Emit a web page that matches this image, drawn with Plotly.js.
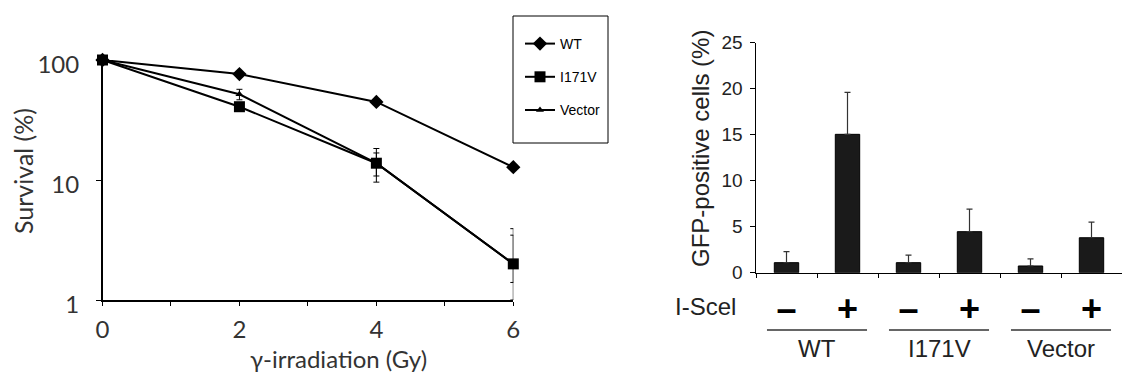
<!DOCTYPE html>
<html>
<head>
<meta charset="utf-8">
<script src="https://cdn.plot.ly/plotly-3.0.1.min.js"></script>
<style>html,body{margin:0;padding:0;background:#fff;}#chart{width:1122px;height:374px;}</style>
</head>
<body>
<div id="chart"></div>
<script>
// ---- Survival curve data (left panel) ----
const doses = [0, 2, 4, 6];
const doseTickVals = [0, 1, 2, 3, 4, 5, 6];
const doseTickText = ["0", "", "2", "", "4", "", "6"];
const survivalTickVals = [1, 10, 100];
const survivalTickText = ["1", "10", "100"];

const wtSurvival = [100, 76.4, 44.7, 12.8];
const wtErrPlus = [0, 2, 2.5, 0.7];
const wtErrMinus = [0, 2, 2.5, 0.7];

const i171vSurvival = [100, 40.8, 13.8, 2.0];
const i171vErrPlus = [0, 3, 4.5, 1.93];
const i171vErrMinus = [0, 3, 4.2, 1.0];

const vectorSurvival = [100, 51.8, 13.8, 2.0];
const vectorErrPlus = [0, 5.2, 3, 1.47];
const vectorErrMinus = [0, 5.2, 3, 0.6];

const seriesNames = ["WT", "I171V", "Vector"];

// ---- GFP reporter data (right panel) ----
const gfpCategories = ["WT-", "WT+", "I171V-", "I171V+", "Vector-", "Vector+"];
const gfpSymbols = ["–", "+", "–", "+", "–", "+"];
const gfpValues = [1.09, 15.04, 1.09, 4.46, 0.73, 3.8];
const gfpErrUp = [1.19, 4.56, 0.81, 2.44, 0.77, 1.7];
const groupLabels = ["WT", "I171V", "Vector"];
const groupCenters = [0.5, 2.5, 4.5];

const W = 1122, H = 374;
const px = v => v / W;
const py = v => 1 - v / H;

const lato = "Lato, 'Open Sans', sans-serif";
const arial = "'Liberation Sans', Arial, sans-serif";

const lineStyle = {color: "#000", width: 2};
const errStyle = (plus, minus) => ({type: "data", symmetric: false, array: plus, arrayminus: minus, color: "#000", thickness: 1, width: 3});

const traces = [
  {x: doses, y: wtSurvival, name: seriesNames[0], legendgroup: "a", type: "scatter", mode: "lines+markers",
   line: lineStyle, marker: {symbol: "diamond", size: 11, color: "#000"}, error_y: errStyle(wtErrPlus, wtErrMinus),
   cliponaxis: false, xaxis: "x", yaxis: "y"},
  {x: doses, y: i171vSurvival, name: seriesNames[1], legendgroup: "b", type: "scatter", mode: "lines+markers",
   line: lineStyle, marker: {symbol: "square", size: 11, color: "#000"}, error_y: errStyle(i171vErrPlus, i171vErrMinus),
   cliponaxis: false, xaxis: "x", yaxis: "y"},
  {x: doses, y: vectorSurvival, name: seriesNames[2], legendgroup: "c", type: "scatter", mode: "lines+markers",
   line: lineStyle, marker: {symbol: "triangle-up", size: 7, color: "#000"}, error_y: errStyle(vectorErrPlus, vectorErrMinus),
   cliponaxis: false, xaxis: "x", yaxis: "y"},
  {x: gfpCategories, y: gfpValues, type: "bar", showlegend: false, xaxis: "x2", yaxis: "y2",
   marker: {color: "#1a1a1a", line: {color: "#000", width: 1}},
   error_y: {type: "data", symmetric: false, array: gfpErrUp, arrayminus: gfpValues.map(() => 0), color: "#333", thickness: 1.2, width: 3}}
];

const shapes = [
  {type: "rect", xref: "paper", yref: "paper", x0: px(513), x1: px(608), y0: py(143), y1: py(16), line: {color: "#000", width: 1}}
];
groupCenters.forEach(c => {
  shapes.push({type: "line", xref: "x2", yref: "paper", x0: c - 0.82, x1: c + 0.82, y0: py(330), y1: py(330), line: {color: "#666", width: 2}});
});

const annotations = [
  {text: "Survival (%)", xref: "paper", yref: "paper", x: px(23), y: py(171), textangle: -90, showarrow: false,
   xanchor: "center", yanchor: "middle", font: {family: lato, size: 25, color: "#333"}},
  {text: "γ-irradiation (Gy)", xref: "paper", yref: "paper", x: px(338), y: py(358), showarrow: false,
   xanchor: "center", yanchor: "middle", font: {family: lato, size: 24, color: "#333"}},
  {text: "GFP-positive cells (%)", xref: "paper", yref: "paper", x: px(700), y: py(149), textangle: -90, showarrow: false,
   xanchor: "center", yanchor: "middle", font: {family: arial, size: 24, color: "#222"}},
  {text: "I-Scel", xref: "paper", yref: "paper", x: px(705.5), y: py(306), showarrow: false,
   xanchor: "center", yanchor: "middle", font: {family: arial, size: 24, color: "#222"}}
];
groupLabels.forEach((g, i) => {
  annotations.push({text: g, xref: "x2", yref: "paper", x: groupCenters[i], y: py(348), showarrow: false,
    xanchor: "center", yanchor: "middle", font: {family: arial, size: 24, color: "#222"}});
});

const layout = {
  width: W, height: H,
  margin: {l: 0, r: 0, t: 0, b: 0, pad: 0},
  paper_bgcolor: "#fff", plot_bgcolor: "rgba(0,0,0,0)",
  showlegend: true,
  legend: {x: px(520), y: py(28), xanchor: "left", yanchor: "top", bgcolor: "rgba(0,0,0,0)", borderwidth: 0,
    tracegroupgap: 12, font: {family: arial, size: 14, color: "#000"}},
  xaxis: {domain: [px(102.5), px(513.3)], range: [0, 6], tickvals: doseTickVals, ticktext: doseTickText,
    ticks: "outside", ticklen: 4, tickcolor: "#000", showline: true, linecolor: "#000", linewidth: 1.5,
    showgrid: false, zeroline: false, anchor: "y", tickfont: {family: lato, size: 24, color: "#333"}, ticklabelstandoff: 4},
  yaxis: {domain: [py(300), py(60)], type: "log", range: [0, 2], tickvals: survivalTickVals, ticktext: survivalTickText,
    ticks: "outside", ticklen: 5, tickcolor: "#000", showline: true, linecolor: "#000", linewidth: 1.5,
    showgrid: false, zeroline: false, anchor: "x", tickfont: {family: lato, size: 24, color: "#333"}, ticklabelstandoff: 12, ticklabelshift: 5},
  xaxis2: {domain: [px(756), 1], type: "category", categoryorder: "array", categoryarray: gfpCategories, range: [-0.5, 5.5],
    tickvals: gfpCategories, ticktext: gfpSymbols, tickson: "boundaries",
    ticks: "outside", ticklen: 4, tickcolor: "#000", showline: true, linecolor: "#000", linewidth: 1.5,
    showgrid: false, zeroline: false, anchor: "y2", tickfont: {family: arial, size: 36, color: "#000", weight: "bold"}, ticklabelstandoff: 4},
  yaxis2: {domain: [py(272.7), py(42.7)], range: [0, 25], dtick: 5,
    ticks: "outside", ticklen: 5, tickcolor: "#000", showline: true, linecolor: "#000", linewidth: 1.5,
    showgrid: false, zeroline: false, anchor: "x2", tickfont: {family: arial, size: 19, color: "#222"}, ticklabelstandoff: 3},
  bargap: 0.6,
  shapes: shapes,
  annotations: annotations
};

Plotly.newPlot("chart", traces, layout, {displayModeBar: false, staticPlot: true});
</script>
</body>
</html>
